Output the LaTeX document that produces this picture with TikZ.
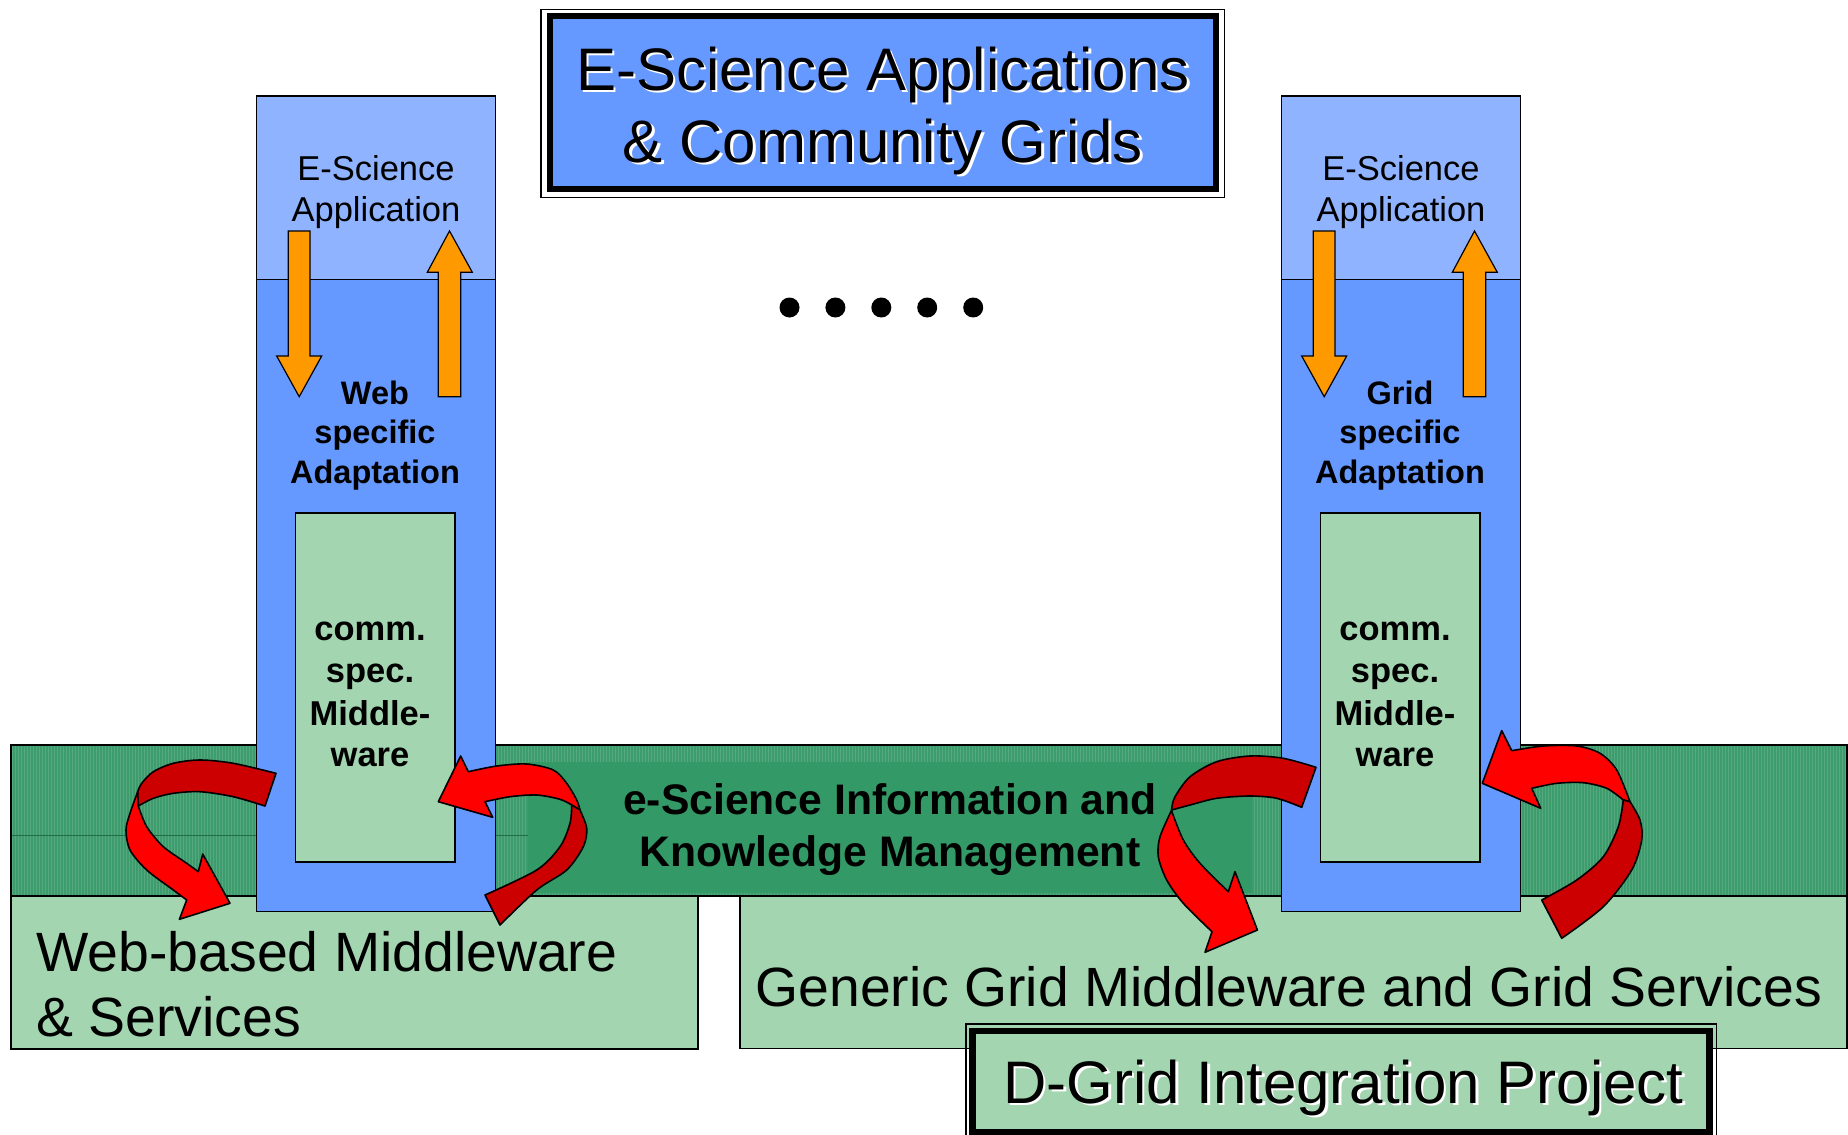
\documentclass[tikz,border=0pt]{standalone}
\usepackage{fontspec}
\setmainfont{Liberation Sans}

\definecolor{colblue}{HTML}{6699FF}
\definecolor{appblue}{HTML}{8FB3FF}
\definecolor{mwgreen}{HTML}{A3D5B0}
\definecolor{kmgreen}{HTML}{3C9C6C}
\definecolor{kmdark}{HTML}{339966}
\definecolor{flowred}{HTML}{FF0000}
\definecolor{backred}{HTML}{CC0000}
\definecolor{flowora}{HTML}{FF9900}

\newcommand\setpx[1]{\fontsize{#1}{#1}\selectfont}

\tikzset{
  outline/.style={draw=black, line width=1.6pt},
  thinline/.style={draw=black, line width=1.2pt, line join=miter},
  lbl/.style={anchor=base, inner sep=0pt, outer sep=0pt, text=black},
  lblw/.style={anchor=base west, inner sep=0pt, outer sep=0pt, text=black},
  shade/.style={text=white, xshift=2.5pt, yshift=-2.5pt},
  ribbonfront/.style={fill=flowred, draw=black, line width=1.6pt, line join=round},
  ribbonback/.style={fill=backred, draw=black, line width=1.6pt, line join=round},
  % one application column: application part, adaptation layer, community middleware
  appcol/.pic={
    \draw[outline, fill=colblue] (256.5,96) rectangle (495.5,911.5);
    \draw[outline, fill=appblue] (256.5,96) rectangle (495.5,279.3);
    \draw[outline, fill=mwgreen] (295.5,512.7) rectangle (455,862);
    \node[lbl] (-app1) at (376,180.5) {\setpx{34.5}E-Science};
    \node[lbl] (-app2) at (376,221) {\setpx{34.5}Application};
    \draw[thinline, fill=flowora] (288.3,231) -- (310,231) -- (310,356) -- (321.7,356)
      -- (299.2,396.7) -- (276.7,356) -- (288.3,356) -- cycle;
    \draw[thinline, fill=flowora] (438.3,396.7) -- (460.7,396.7) -- (460.7,272.3) -- (472.3,272.3)
      -- (449.5,231) -- (427.3,272.3) -- (438.3,272.3) -- cycle;
    \node[lbl] (-ad1) at (375,404.5) {\setpx{32.5}\bfseries #1};
    \node[lbl] (-ad2) at (375,443.5) {\setpx{32.5}\bfseries specific};
    \node[lbl] (-ad3) at (375,483.5) {\setpx{32.5}\bfseries Adaptation};
    \node[lbl] (-cm1) at (370,640) {\setpx{34.5}\bfseries comm.};
    \node[lbl] (-cm2) at (370,682.5) {\setpx{34.5}\bfseries spec.};
    \node[lbl] (-cm3) at (370,725.5) {\setpx{34.5}\bfseries Middle-};
    \node[lbl] (-cm4) at (370,766.5) {\setpx{34.5}\bfseries ware};
  }
}

\begin{document}
\begin{tikzpicture}[x=1pt,y=-1pt]
\useasboundingbox (0,0) rectangle (1848,1135);
\clip (0,0) rectangle (1848,1135);

% middleware layers
\draw[outline, fill=mwgreen] (740,760) rectangle (1847,1048.5);
\draw[outline, fill=mwgreen] (10.7,890) rectangle (698,1049);
\node[lblw] (web1) at (36.4,971) {\setpx{55.4}Web-based Middleware};
\node[lblw] (web2) at (36.4,1036.5) {\setpx{55.4}\& Services};
\node[lblw] (grid1) at (755.5,1006) {\setpx{55.3}Generic Grid Middleware and Grid Services};

% information and knowledge management band
\fill[kmgreen] (10.7,745) rectangle (1847,896);
\draw[white, opacity=0.13, line width=0.8pt, step=3] (10.7,745) grid (1847,896);
\fill[kmdark] (528,762) rectangle (1252,893);
\draw[kmdark!70!black, line width=1pt] (10.7,835) -- (528,835);
\draw[outline] (10.7,745) rectangle (1847,896);
\node[lbl] (km1) at (890,814.5) {\setpx{42.7}\bfseries e-Science Information and};
\node[lbl] (km2) at (890,866.5) {\setpx{42.7}\bfseries Knowledge Management};

% application columns
\pic (webcol) at (0,0) {appcol=Web};
\pic (gridcol) at (1025,0) {appcol=Grid};

% curved flows, left column
\path[ribbonfront] (137.7,791.7) -- plot[smooth] coordinates {(137.7,791.7) (130,813.3) (126,830) (130,850) (146.7,870) (173.3,890) (186.7,900)}
  -- (179.4,919.3) -- (230,903.3) -- (202.7,854)
  -- plot[smooth] coordinates {(198.3,871.7) (186.7,863.3) (163.3,846.7) (146.7,826.7) (138.3,806)} -- cycle;
\path[ribbonback] plot[smooth] coordinates {(276,773.3) (233.3,763.3) (200,760) (173.3,763.3) (153.3,771.7) (141.7,783.3) (137.7,791.7)}
  -- plot[smooth] coordinates {(138.3,806) (153.3,798.3) (173.3,793.3) (200,791.7) (233.3,796.7) (265,806)} -- cycle;

\path[ribbonfront] (438.3,801.7) -- (460.7,756)
  -- plot[smooth] coordinates {(468.3,771.7) (496.7,766) (526.7,764) (553.3,770) (566.7,783.3) (576.7,800) (580,810)}
  -- plot[smooth] coordinates {(571.7,805) (560,799.3) (536.7,795) (510,796.7) (485,801.7)}
  -- (492.7,817.3) -- cycle;
\path[ribbonback] plot[smooth] coordinates {(580,810) (586.7,828.3) (583.3,846.7) (566.7,870) (536.7,890) (500,925)}
  -- plot[smooth] coordinates {(485,895) (536.7,870) (560,846.7) (570,823.3) (571.7,805)} -- cycle;

% curved flows, right column
\path[ribbonfront] plot[smooth] coordinates {(1171.7,810) (1160,836.7) (1158.3,856.7) (1166.7,880) (1183.3,903.3) (1212,931.7)}
  -- (1205,952.3) -- (1257.4,930) -- (1235,871.7)
  -- plot[smooth] coordinates {(1228.3,891.7) (1200,863.3) (1183.3,840) (1172,812)} -- cycle;
\path[ribbonback] plot[smooth] coordinates {(1316,767.3) (1283.3,758.3) (1250,756) (1216.7,761.7) (1190,776.7) (1175,796.7) (1171.7,808.3)}
  -- plot[smooth] coordinates {(1171.7,810) (1190,805) (1216.7,798.3) (1250,796) (1276.7,798.3) (1301.7,807.3)} -- cycle;

\path[ribbonfront] (1482.3,783.3) -- (1501.7,730.7)
  -- plot[smooth] coordinates {(1511.7,750.7) (1543.3,746) (1576.7,746) (1600,753.3) (1616.7,770) (1630,801.7)}
  -- plot[smooth] coordinates {(1623.3,800) (1606.7,788.3) (1583.3,782.7) (1556.7,783.3) (1531.7,788.3)}
  -- (1540.7,808.3) -- cycle;
\path[ribbonback] plot[smooth] coordinates {(1630,801.7) (1640,820) (1641.7,840) (1631.7,870) (1603.3,906.7) (1561.7,938.3)}
  -- plot[smooth] coordinates {(1541.7,900) (1576.7,880) (1603.3,856.7) (1618.3,826.7) (1623.3,800)} -- cycle;

% title box
\draw[line width=1.2pt] (541,9.4) rectangle (1224.7,197.3);
\draw[line width=6pt, fill=colblue] (549.5,16) rectangle (1216,189);
\node[lbl, shade] (tit1s) at (883,90) {\setpx{60}E-Science Applications};
\node[lbl] (tit1) at (883,90) {\setpx{60}E-Science Applications};
\node[lbl, shade] (tit2s) at (883,162) {\setpx{60}\& Community Grids};
\node[lbl] (tit2) at (883,162) {\setpx{60}\& Community Grids};

% continuation dots
\foreach \i/\px in {1/789.5, 2/835.4, 3/881.3, 4/927.2, 5/973.2}
  \fill[black] (\px,307.5) circle[radius=10pt];

% project box
\draw[line width=1.2pt] (966,1024) rectangle (1716.4,1142);
\draw[line width=6.5pt, fill=mwgreen] (972.6,1031) rectangle (1709.5,1132);
\node[lbl, shade] (projs) at (1343.4,1103.3) {\setpx{60}D-Grid Integration Project};
\node[lbl] (proj) at (1343.4,1103.3) {\setpx{60}D-Grid Integration Project};
\end{tikzpicture}
\end{document}
